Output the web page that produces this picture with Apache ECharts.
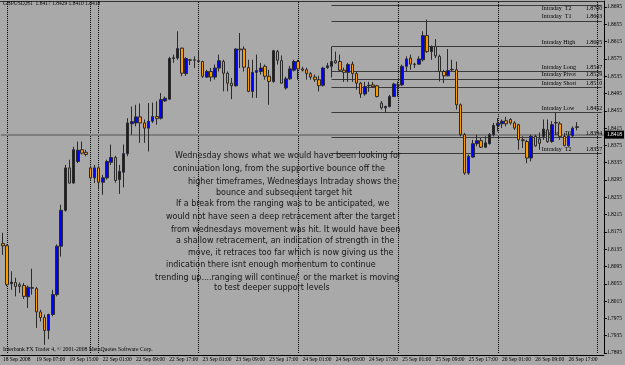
<!DOCTYPE html>
<html><head><meta charset="utf-8">
<script src="https://cdn.jsdelivr.net/npm/echarts@6/dist/echarts.min.js"></script>
<style>html,body{margin:0;padding:0;background:#a9a9a9}#c{width:625px;height:365px}</style>
</head><body><div id="c"></div>
<script>
// ---- data ----
const sessions = [['18 Sep',23,23],['19 Sep',0,19],['21 Sep',22,23],['22 Sep',0,23],['23 Sep',0,23],['24 Sep',0,23],['25 Sep',0,23],['26 Sep',0,23],['27 Sep',0,1]];
const opens = [1.8148,1.8143,1.8055,1.8058,1.8053,1.8051,1.8025,1.8045,1.8044,1.7990,1.7977,1.7947,1.7984,1.8030,1.8142,1.8225,1.8323,1.8288,1.8338,1.8365,1.8359,1.8323,1.8300,1.8323,1.8290,1.8300,1.8336,1.8347,1.8296,1.8313,1.8356,1.8425,1.8427,1.8441,1.8427,1.8415,1.8431,1.8442,1.8438,1.8478,1.8482,1.8578,1.8577,1.8600,1.8541,1.8573,1.8573,1.8571,1.8569,1.8533,1.8546,1.8533,1.8554,1.8569,1.8542,1.8519,1.8513,1.8598,1.8598,1.8555,1.8500,1.8544,1.8546,1.8558,1.8535,1.8523,1.8592,1.8571,1.8508,1.8529,1.8549,1.8569,1.8552,1.8550,1.8541,1.8533,1.8527,1.8514,1.8555,1.8558,1.8571,1.8569,1.8549,1.8544,1.8563,1.8541,1.8519,1.8494,1.8513,1.8515,1.8513,1.8473,1.8462,1.8465,1.8488,1.8515,1.8515,1.8558,1.8577,1.8563,1.8563,1.8573,1.8629,1.8592,1.8604,1.8581,1.8546,1.8536,1.8550,1.8550,1.8469,1.8400,1.8311,1.8348,1.8379,1.8386,1.8371,1.8379,1.8400,1.8421,1.8425,1.8432,1.8435,1.8427,1.8423,1.8388,1.8384,1.8346,1.8396,1.8390,1.8396,1.8411,1.8384,1.8427,1.8425,1.8396,1.8374,1.8397,1.8417];
const highs = [1.8173,1.8146,1.8084,1.8069,1.8058,1.8057,1.8051,1.8090,1.8048,1.7995,1.7984,1.7986,1.8041,1.8146,1.8238,1.8330,1.8342,1.8372,1.8384,1.8384,1.8365,1.8328,1.8330,1.8328,1.8307,1.8342,1.8377,1.8351,1.8330,1.8377,1.8438,1.8465,1.8469,1.8472,1.8435,1.8473,1.8474,1.8477,1.8496,1.8488,1.8580,1.8585,1.8639,1.8601,1.8579,1.8575,1.8581,1.8596,1.8571,1.8550,1.8554,1.8562,1.8585,1.8573,1.8546,1.8531,1.8600,1.8635,1.8604,1.8573,1.8573,1.8585,1.8566,1.8562,1.8550,1.8596,1.8596,1.8583,1.8534,1.8559,1.8573,1.8573,1.8557,1.8555,1.8545,1.8539,1.8536,1.8557,1.8566,1.8603,1.8592,1.8585,1.8555,1.8566,1.8569,1.8545,1.8522,1.8522,1.8522,1.8522,1.8515,1.8478,1.8467,1.8492,1.8520,1.8523,1.8562,1.8581,1.8585,1.8566,1.8581,1.8639,1.8666,1.8606,1.8621,1.8585,1.8550,1.8598,1.8573,1.8569,1.8472,1.8404,1.8354,1.8388,1.8400,1.8392,1.8396,1.8404,1.8427,1.8438,1.8435,1.8441,1.8438,1.8431,1.8425,1.8396,1.8388,1.8400,1.8400,1.8405,1.8435,1.8435,1.8431,1.8451,1.8430,1.8404,1.8407,1.8419,1.8429];
const lows = [1.8122,1.8049,1.8041,1.8026,1.8034,1.8020,1.7999,1.8030,1.7953,1.7968,1.7914,1.7927,1.7980,1.8026,1.8118,1.8222,1.8287,1.8287,1.8334,1.8354,1.8350,1.8296,1.8288,1.8273,1.8261,1.8296,1.8330,1.8289,1.8263,1.8278,1.8350,1.8400,1.8419,1.8381,1.8381,1.8361,1.8427,1.8423,1.8435,1.8476,1.8481,1.8566,1.8573,1.8535,1.8536,1.8561,1.8554,1.8566,1.8531,1.8531,1.8523,1.8527,1.8546,1.8500,1.8500,1.8482,1.8511,1.8554,1.8546,1.8498,1.8485,1.8485,1.8539,1.8527,1.8469,1.8520,1.8562,1.8518,1.8504,1.8527,1.8546,1.8527,1.8546,1.8527,1.8527,1.8522,1.8500,1.8511,1.8552,1.8532,1.8564,1.8546,1.8522,1.8522,1.8522,1.8504,1.8485,1.8490,1.8499,1.8509,1.8486,1.8458,1.8451,1.8463,1.8488,1.8488,1.8513,1.8546,1.8550,1.8554,1.8562,1.8569,1.8589,1.8573,1.8577,1.8523,1.8519,1.8535,1.8546,1.8458,1.8396,1.8307,1.8307,1.8346,1.8373,1.8369,1.8369,1.8377,1.8396,1.8407,1.8415,1.8419,1.8423,1.8411,1.8365,1.8369,1.8334,1.8338,1.8372,1.8365,1.8388,1.8381,1.8381,1.8400,1.8388,1.8373,1.8372,1.8395,1.8410];
const closes = [1.8143,1.8053,1.8059,1.8049,1.8049,1.8026,1.8047,1.8046,1.7990,1.7977,1.7947,1.7984,1.8030,1.8142,1.8225,1.8323,1.8288,1.8365,1.8364,1.8357,1.8354,1.8300,1.8323,1.8290,1.8300,1.8338,1.8347,1.8294,1.8315,1.8356,1.8427,1.8430,1.8441,1.8427,1.8415,1.8431,1.8442,1.8437,1.8481,1.8484,1.8576,1.8576,1.8599,1.8542,1.8576,1.8572,1.8572,1.8569,1.8535,1.8546,1.8533,1.8554,1.8571,1.8542,1.8519,1.8513,1.8598,1.8596,1.8556,1.8500,1.8544,1.8548,1.8554,1.8535,1.8523,1.8594,1.8572,1.8519,1.8529,1.8552,1.8569,1.8552,1.8549,1.8541,1.8533,1.8527,1.8513,1.8554,1.8559,1.8569,1.8566,1.8549,1.8544,1.8562,1.8541,1.8519,1.8494,1.8511,1.8514,1.8511,1.8488,1.8462,1.8465,1.8488,1.8517,1.8514,1.8558,1.8575,1.8563,1.8562,1.8575,1.8629,1.8592,1.8604,1.8582,1.8546,1.8536,1.8548,1.8551,1.8469,1.8400,1.8311,1.8350,1.8379,1.8386,1.8371,1.8381,1.8400,1.8421,1.8426,1.8431,1.8425,1.8427,1.8415,1.8388,1.8386,1.8346,1.8396,1.8374,1.8380,1.8413,1.8384,1.8423,1.8428,1.8396,1.8375,1.8397,1.8415,1.8418];
const levelNames = ['Intraday  T2','Intraday  T1','Intraday High','Intraday Long','Intraday Pivot','Intraday Short','Intraday Low','Intraday  T1','Intraday  T2'];
const levelValues = [1.8700,1.8663,1.8605,1.8547,1.8529,1.8510,1.8452,1.8394,1.8357];
const levelStart = '24 Sep 08:00';
const bidPrice = 1.8418;
const yMin = 1.7895, yMax = 1.8709, yStep = 0.004;
const titleText = 'GBPUSD,H1  1.8417 1.8429 1.8410 1.8418';
const copyText = 'Interbank FX Trader 4, \u00a9 2001-2008 MetaQuotes Software Corp.';
const noteLines = [
 'Wednesday shows what we would have been looking for',
 'coninuation long, from the supportive bounce off the',
 'higher timeframes, Wednesdays Intraday shows the',
 'bounce and subsequent target hit',
 'If a break from the ranging was to be anticipated, we',
 'would not have seen a deep retracement after the target',
 'from wednesdays movement was hit. It would have been',
 'a shallow retracement, an indication of strength in the',
 'move, it retraces too far which is now giving us the',
 'indication there isnt enough momentum to continue',
 'trending up....ranging will continue/  or the market is moving',
 'to test deeper support levels'];
// ---- layout ----
const notePos = [[175,156],[173,169],[188,182],[216,193],[176,204],[166,217],[171,230],[176,241],[188,253],[166,265],[155,278],[214,288]];

const cats = [];
sessions.forEach(([d,h0,h1]) => { for (let h=h0; h<=h1; h++) cats.push(d + ' ' + String(h).padStart(2,'0') + ':00'); });
const seps = [];
for (let i=1;i<cats.length;i++){ if (cats[i].slice(0,6)!==cats[i-1].slice(0,6)) seps.push(i); }
const candles = opens.map((o,i)=>[o, closes[i], lows[i], highs[i]]);
const labelIdx = (i) => i % 8 === 0 && i <= 136;
const NF = 'Liberation Sans Narrow';
const levelRich = {n:{width:44, align:'left', fontSize:6, fontFamily:NF, color:'#000'}, p:{width:15, align:'left', fontSize:6, fontFamily:NF, color:'#000'}};

const chart = echarts.init(document.getElementById('c'), null, {renderer:'canvas'});
chart.setOption({
  backgroundColor:'#a9a9a9',
  animation:false,
  grid:{left:0, right:21, top:1, bottom:12},
  xAxis:{type:'category', data:cats, boundaryGap:true, offset:2,
    axisLine:{lineStyle:{color:'#000', width:1}},
    axisTick:{interval:(i)=>labelIdx(i), alignWithLabel:true, length:5, lineStyle:{color:'#000'}},
    axisLabel:{interval:(i)=>labelIdx(i), align:'left', margin:2, fontSize:5.5, fontFamily:NF, color:'#000',
      formatter:(v,i)=> i===0 ? '18 Sep 2008' : v},
    splitLine:{show:false}},
  yAxis:{type:'value', position:'right', min:yMin, max:yMax, interval:yStep,
    axisLine:{show:true, lineStyle:{color:'#000'}},
    axisTick:{show:true, length:3, lineStyle:{color:'#000'}},
    axisLabel:{fontSize:5.5, fontFamily:NF, color:'#000', margin:3, showMaxLabel:false, formatter:(v)=>Number(v).toFixed(4)},
    splitLine:{show:false}},
  series:[
    {type:'line', data:[], silent:true, z:1,
      markLine:{silent:true, symbol:['none','none'], animation:false,
        lineStyle:{type:'dotted', color:'#000', width:1}, label:{show:false},
        data: seps.map(i=>({xAxis:i}))}},
    {type:'line', data:[], silent:true, z:2,
      markLine:{silent:true, symbol:['none','none'], animation:false,
        lineStyle:{type:'solid', color:'#3a3a3a', width:1},
        data: levelValues.map((v,k)=>[
          {name:levelNames[k], xAxis:levelStart, yAxis:v,
           label:{show:true, position: k===0 ? 'insideEndBottom' : 'insideEndTop', distance:[1,1],
             formatter:'{n|'+levelNames[k]+'}{p|'+v.toFixed(4)+'}', rich:levelRich}},
          {xAxis:cats[cats.length-1], yAxis:v}])}},
    {type:'line', data:[], silent:true, z:2,
      markLine:{silent:true, symbol:['none','none'], animation:false,
        lineStyle:{type:'solid', color:'#7e7e7e', width:2},
        label:{show:true, position:'end', distance:1, formatter:bidPrice.toFixed(4),
          backgroundColor:'#000', color:'#fff', fontSize:5.5, fontFamily:NF, padding:[1,2,1,2]},
        data:[{yAxis:bidPrice}]}},
    {type:'candlestick', data:candles, barWidth:3, z:5,
      itemStyle:{color:'#0000ff', color0:'#ff9900', borderColor:'#2a2a2a', borderColor0:'#2a2a2a', borderWidth:1}}
  ],
  graphic:[
    {type:'line', z:10, shape:{x1:0,y1:1.5,x2:604,y2:1.5}, style:{stroke:'#333', lineWidth:1}},
    {type:'text', z:10, left:3, top:1, style:{text:titleText, fontSize:5.5, fontFamily:NF, fill:'#000'}},
    {type:'text', z:10, left:3, top:347, style:{text:copyText, fontSize:5.7, fontFamily:NF, fill:'#000'}}
  ].concat(noteLines.map((t,k)=>({type:'text', z:10, x:notePos[k][0], y:notePos[k][1],
      style:{text:t, fontSize:8, fontFamily:'DejaVu Sans', fill:'#161616', textVerticalAlign:'middle'}})))
});
</script></body></html>
